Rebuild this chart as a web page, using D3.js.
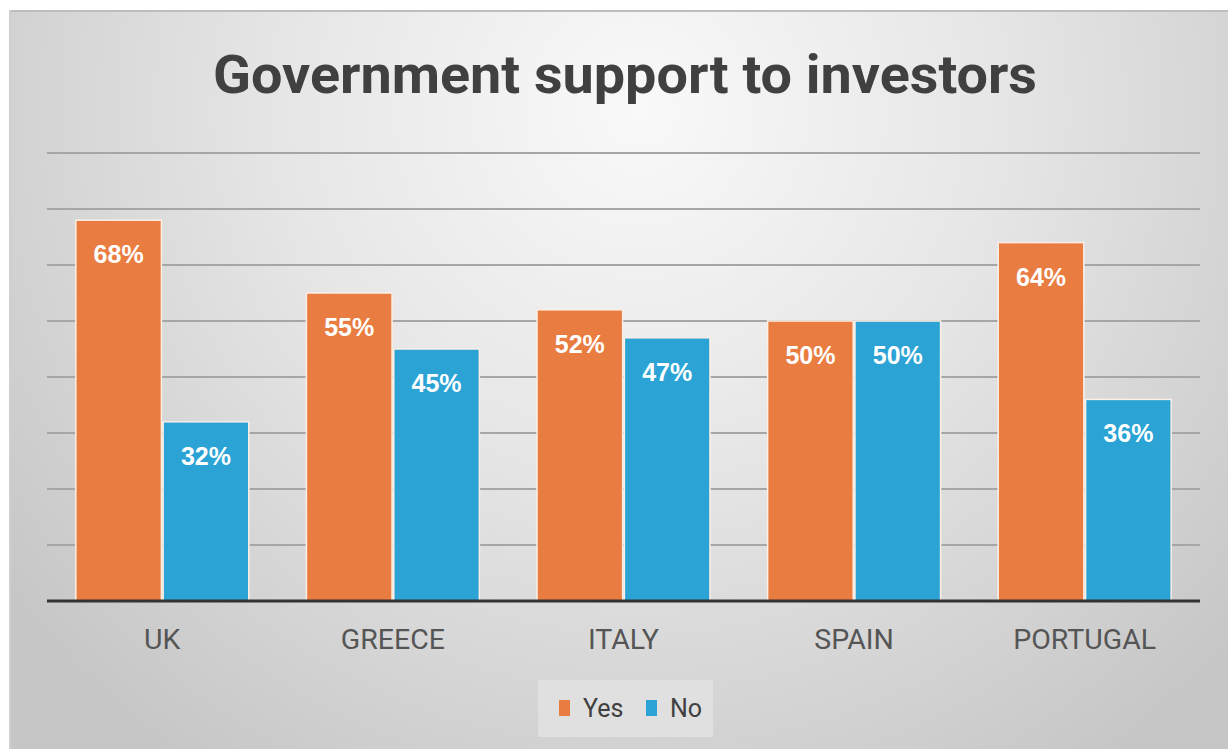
<!DOCTYPE html>
<html>
<head>
<meta charset="utf-8">
<script src="https://cdn.jsdelivr.net/npm/d3@7"></script>
<style>
  html, body { margin: 0; padding: 0; background: #ffffff; }
  svg { display: block; }
</style>
</head>
<body>
<svg id="chart" width="1228" height="749"></svg>
<script>
// Survey results by country
const categories = ["UK", "GREECE", "ITALY", "SPAIN", "PORTUGAL"];
const seriesNames = ["Yes", "No"];
const yesValues = [68, 55, 52, 50, 64];
const noValues = [32, 45, 47, 50, 36];
const gridTicks = [10, 20, 30, 40, 50, 60, 70, 80];
const seriesColors = ["#E97C40", "#2BA3D5"];
const titleText = "Government support to investors";

const W = 1228, H = 749;
const svg = d3.select("#chart");
const defs = svg.append("defs");

// Chart area background: soft radial gradient, brightest under the title
const grad = defs.append("radialGradient")
  .attr("id", "bg")
  .attr("gradientUnits", "userSpaceOnUse")
  .attr("cx", 640).attr("cy", 110).attr("r", 800)
  .attr("fx", 640).attr("fy", 110);
grad.append("stop").attr("offset", "0%").attr("stop-color", "#f9f9f9");
grad.append("stop").attr("offset", "45%").attr("stop-color", "#e6e6e6");
grad.append("stop").attr("offset", "100%").attr("stop-color", "#c6c6c6");

svg.append("rect").attr("x", 9).attr("y", 10).attr("width", W - 9).attr("height", H - 10)
  .attr("fill", "url(#bg)");
svg.append("line").attr("x1", 9).attr("x2", W).attr("y1", 11).attr("y2", 11)
  .attr("stroke", "#bdbdbd").attr("stroke-width", 2);
svg.append("line").attr("x1", 10).attr("x2", 10).attr("y1", 10).attr("y2", H)
  .attr("stroke", "#cfcfcf").attr("stroke-width", 2);

// Title
svg.append("text")
  .attr("x", 625).attr("y", 93)
  .attr("text-anchor", "middle")
  .attr("font-family", "Roboto, 'Liberation Sans', Arial, sans-serif")
  .attr("font-weight", "bold")
  .attr("font-size", 54)
  .attr("fill", "#404040")
  .attr("textLength", 824)
  .attr("lengthAdjust", "spacingAndGlyphs")
  .text(titleText);

// Scales
const plot = { left: 47, right: 1200, top: 153, bottom: 601 };
const x = d3.scaleBand().domain(categories)
  .range([plot.left, plot.right])
  .paddingInner(0.25).paddingOuter(0.125);
const xs = d3.scaleBand().domain(seriesNames)
  .range([0, x.bandwidth()]).paddingInner(0.02);
const y = d3.scaleLinear().domain([0, 80]).range([plot.bottom, plot.top]);
const color = d3.scaleOrdinal().domain(seriesNames).range(seriesColors);

// Horizontal gridlines at every 10%
svg.append("g").selectAll("line").data(gridTicks).join("line")
  .attr("x1", plot.left).attr("x2", plot.right)
  .attr("y1", d => y(d)).attr("y2", d => y(d))
  .attr("stroke", "#a6a6a6").attr("stroke-width", 2);

// Bars
const rows = categories.map((c, i) => ({ cat: c, values: [
  { s: "Yes", v: yesValues[i] }, { s: "No", v: noValues[i] }] }));

const groups = svg.append("g").selectAll("g").data(rows).join("g")
  .attr("transform", d => `translate(${x(d.cat)},0)`);

groups.selectAll("rect").data(d => d.values).join("rect")
  .attr("x", d => xs(d.s))
  .attr("y", d => y(d.v))
  .attr("width", xs.bandwidth())
  .attr("height", d => y(0) - y(d.v))
  .attr("fill", d => color(d.s))
  .attr("stroke", "#fbefe6").attr("stroke-width", 1.5);

groups.selectAll("text").data(d => d.values).join("text")
  .attr("x", d => xs(d.s) + xs.bandwidth() / 2)
  .attr("y", d => y(d.v) + 43)
  .attr("text-anchor", "middle")
  .attr("font-family", "'Liberation Sans', Arial, sans-serif")
  .attr("font-weight", "bold")
  .attr("font-size", 25)
  .attr("fill", "#ffffff")
  .text(d => d.v + "%");

// Category axis
const xAxis = svg.append("g")
  .attr("transform", `translate(0,${plot.bottom})`)
  .call(d3.axisBottom(x).tickSize(0).tickPadding(28));
xAxis.select(".domain").remove();
xAxis.selectAll("text")
  .attr("font-family", "Roboto, 'Liberation Sans', Arial, sans-serif")
  .attr("font-size", 28.5)
  .attr("fill", "#555555");
svg.append("line")
  .attr("x1", plot.left).attr("x2", plot.right)
  .attr("y1", plot.bottom).attr("y2", plot.bottom)
  .attr("stroke", "#333333").attr("stroke-width", 3);

// Legend
const legend = svg.append("g");
legend.append("rect").attr("x", 538).attr("y", 680).attr("width", 175).attr("height", 57)
  .attr("fill", "#e0e0e0");
const legendX = [559, 646];
const item = legend.selectAll("g.item").data(seriesNames).join("g")
  .attr("class", "item")
  .attr("transform", (d, i) => `translate(${legendX[i]},700)`);
item.append("rect").attr("width", 11).attr("height", 16)
  .attr("fill", d => color(d));
item.append("text").attr("x", 24).attr("y", 17)
  .attr("font-family", "Roboto, 'Liberation Sans', Arial, sans-serif")
  .attr("font-size", 25)
  .attr("fill", "#404040")
  .text(d => d);
</script>
</body>
</html>
